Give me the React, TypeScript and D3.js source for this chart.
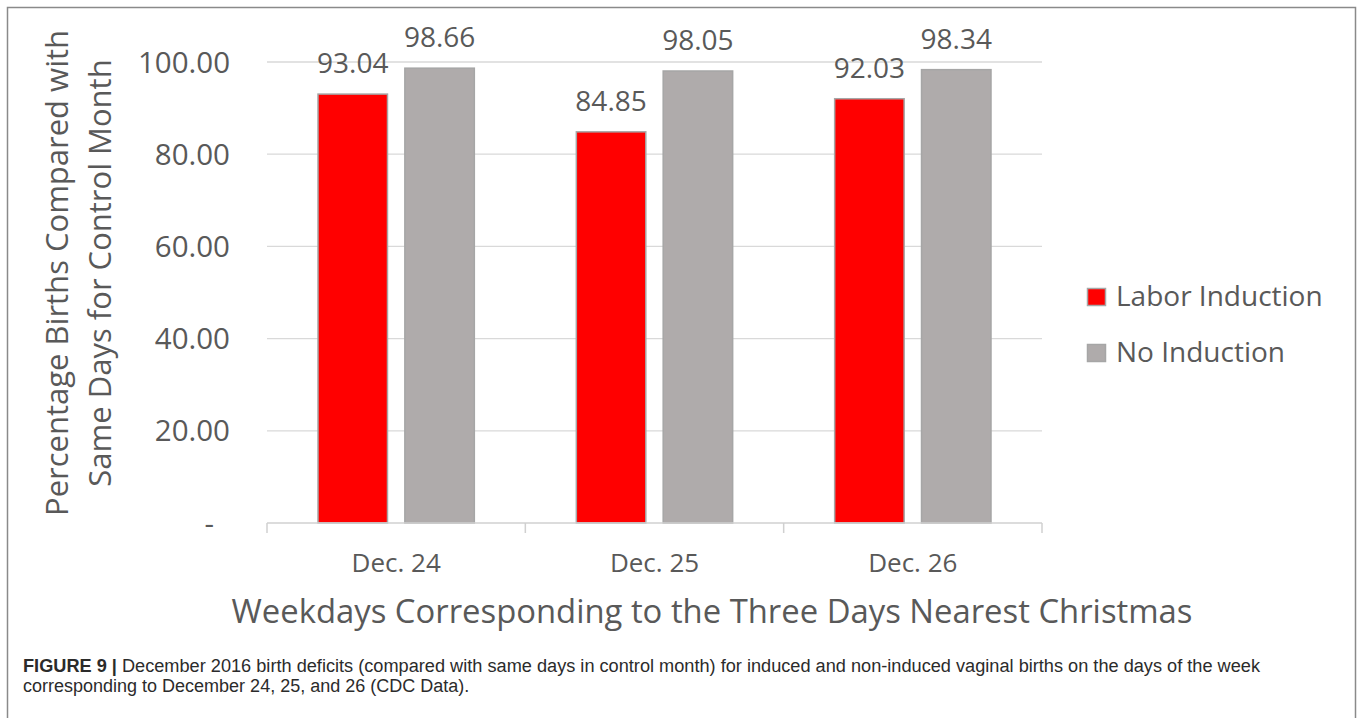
import React from "react";
import * as d3 from "d3";

const categories = ["Dec. 24", "Dec. 25", "Dec. 26"];
const seriesNames = ["Labor Induction", "No Induction"];
const laborInduction = [93.04, 84.85, 92.03];
const noInduction = [98.66, 98.05, 98.34];
const yTicks = [0, 20, 40, 60, 80, 100];
const seriesColors = ["#ff0000", "#afabab"];
const yTitleLines = ["Percentage Births Compared with", "Same Days for Control Month"];
const xTitle = "Weekdays Corresponding to the Three Days Nearest Christmas";
const captionBold = "FIGURE 9 |";
const captionLine1 =
  " December 2016 birth deficits (compared with same days in control month) for induced and non-induced vaginal births on the days of the week";
const captionLine2 = "corresponding to December 24, 25, and 26 (CDC Data).";

const W = 1360;
const H = 718;
const FONT = "'Open Sans', 'Noto Sans', sans-serif";
const TXT = "#595959";

export default function App() {
  const plotLeft = 267;
  const plotRight = 1042;
  const plotTop = 62;
  const plotBottom = 523;

  const x0 = d3.scaleBand<string>().domain(categories).range([plotLeft, plotRight]).paddingInner(0).paddingOuter(0);
  const bw = x0.bandwidth();
  const x1 = d3.scaleBand<string>().domain(seriesNames).range([51, bw - 51]).paddingInner(0.2);
  const y = d3.scaleLinear().domain([0, 100]).range([plotBottom, plotTop]);

  const data = [laborInduction, noInduction];
  const fmt = d3.format(".2f");

  const boundaries = [...categories.map((c) => x0(c) as number), plotRight];

  return (
    <svg width={W} height={H} style={{ position: "absolute", left: 0, top: 0, background: "#fff" }}>
      <rect x={7.5} y={7.5} width={1348} height={740} fill="#fff" stroke="#8a8a8a" strokeWidth={1.5} />

      {/* gridlines */}
      {yTicks.filter((t) => t > 0).map((t) => (
        <line key={t} x1={plotLeft} x2={plotRight} y1={y(t)} y2={y(t)} stroke="#d9d9d9" strokeWidth={1.3} />
      ))}

      {/* y tick labels */}
      {yTicks.map((t) => (
        <text
          key={t}
          x={t === 0 ? 214 : 230}
          y={y(t) + 10.5}
          textAnchor="end"
          fontFamily={FONT}
          fontSize={29.5}
          fill={TXT}
        >
          {t === 0 ? "-" : fmt(t)}
        </text>
      ))}

      {/* bars */}
      {categories.map((c, ci) =>
        seriesNames.map((s, si) => {
          const v = data[si][ci];
          const bx = (x0(c) as number) + (x1(s) as number);
          return (
            <g key={c + s}>
              <rect
                x={bx}
                y={y(v)}
                width={x1.bandwidth()}
                height={plotBottom - y(v)}
                fill={seriesColors[si]}
                stroke="#a6a6a6"
                strokeWidth={1.5}
              />
              <text
                x={bx + x1.bandwidth() / 2}
                y={y(v) - 21}
                textAnchor="middle"
                fontFamily={FONT}
                fontSize={28}
                fill={TXT}
              >
                {fmt(v)}
              </text>
            </g>
          );
        })
      )}

      {/* x axis */}
      <line x1={plotLeft} x2={plotRight} y1={plotBottom} y2={plotBottom} stroke="#d0d0d0" strokeWidth={1.5} />
      {boundaries.map((b, i) => (
        <line key={i} x1={b} x2={b} y1={plotBottom} y2={plotBottom + 10} stroke="#d0d0d0" strokeWidth={1.5} />
      ))}
      {categories.map((c) => (
        <text
          key={c}
          x={(x0(c) as number) + bw / 2}
          y={572}
          textAnchor="middle"
          fontFamily={FONT}
          fontSize={26}
          fill={TXT}
        >
          {c}
        </text>
      ))}

      {/* axis titles */}
      <text x={712} y={623} textAnchor="middle" fontFamily={FONT} fontSize={32.5} fill={TXT} textLength={961} lengthAdjust="spacingAndGlyphs">
        {xTitle}
      </text>
      {yTitleLines.map((l, i) => (
        <text
          key={i}
          transform={`translate(${68 + i * 43},273) rotate(-90)`}
          textAnchor="middle"
          fontFamily={FONT}
          fontSize={31}
          fill={TXT}
        >
          {l}
        </text>
      ))}

      {/* legend */}
      {seriesNames.map((s, i) => (
        <g key={s} transform={`translate(0,${i * 56})`}>
          <rect x={1087.5} y={288.5} width={18} height={17} fill={seriesColors[i]} stroke="#a6a6a6" strokeWidth={1.5} />
          <text x={1116} y={306} fontFamily={FONT} fontSize={28} fill={TXT}>
            {s}
          </text>
        </g>
      ))}

      {/* caption */}
      <text x={23} y={672} fontFamily="'Liberation Sans', Arial, sans-serif" fontSize={18} fill="#2b2b2b" textLength={1237} lengthAdjust="spacingAndGlyphs">
        <tspan fontWeight="bold">{captionBold}</tspan>
        <tspan>{captionLine1}</tspan>
      </text>
      <text x={23} y={692} fontFamily="'Liberation Sans', Arial, sans-serif" fontSize={18} fill="#2b2b2b">
        {captionLine2}
      </text>
    </svg>
  );
}
